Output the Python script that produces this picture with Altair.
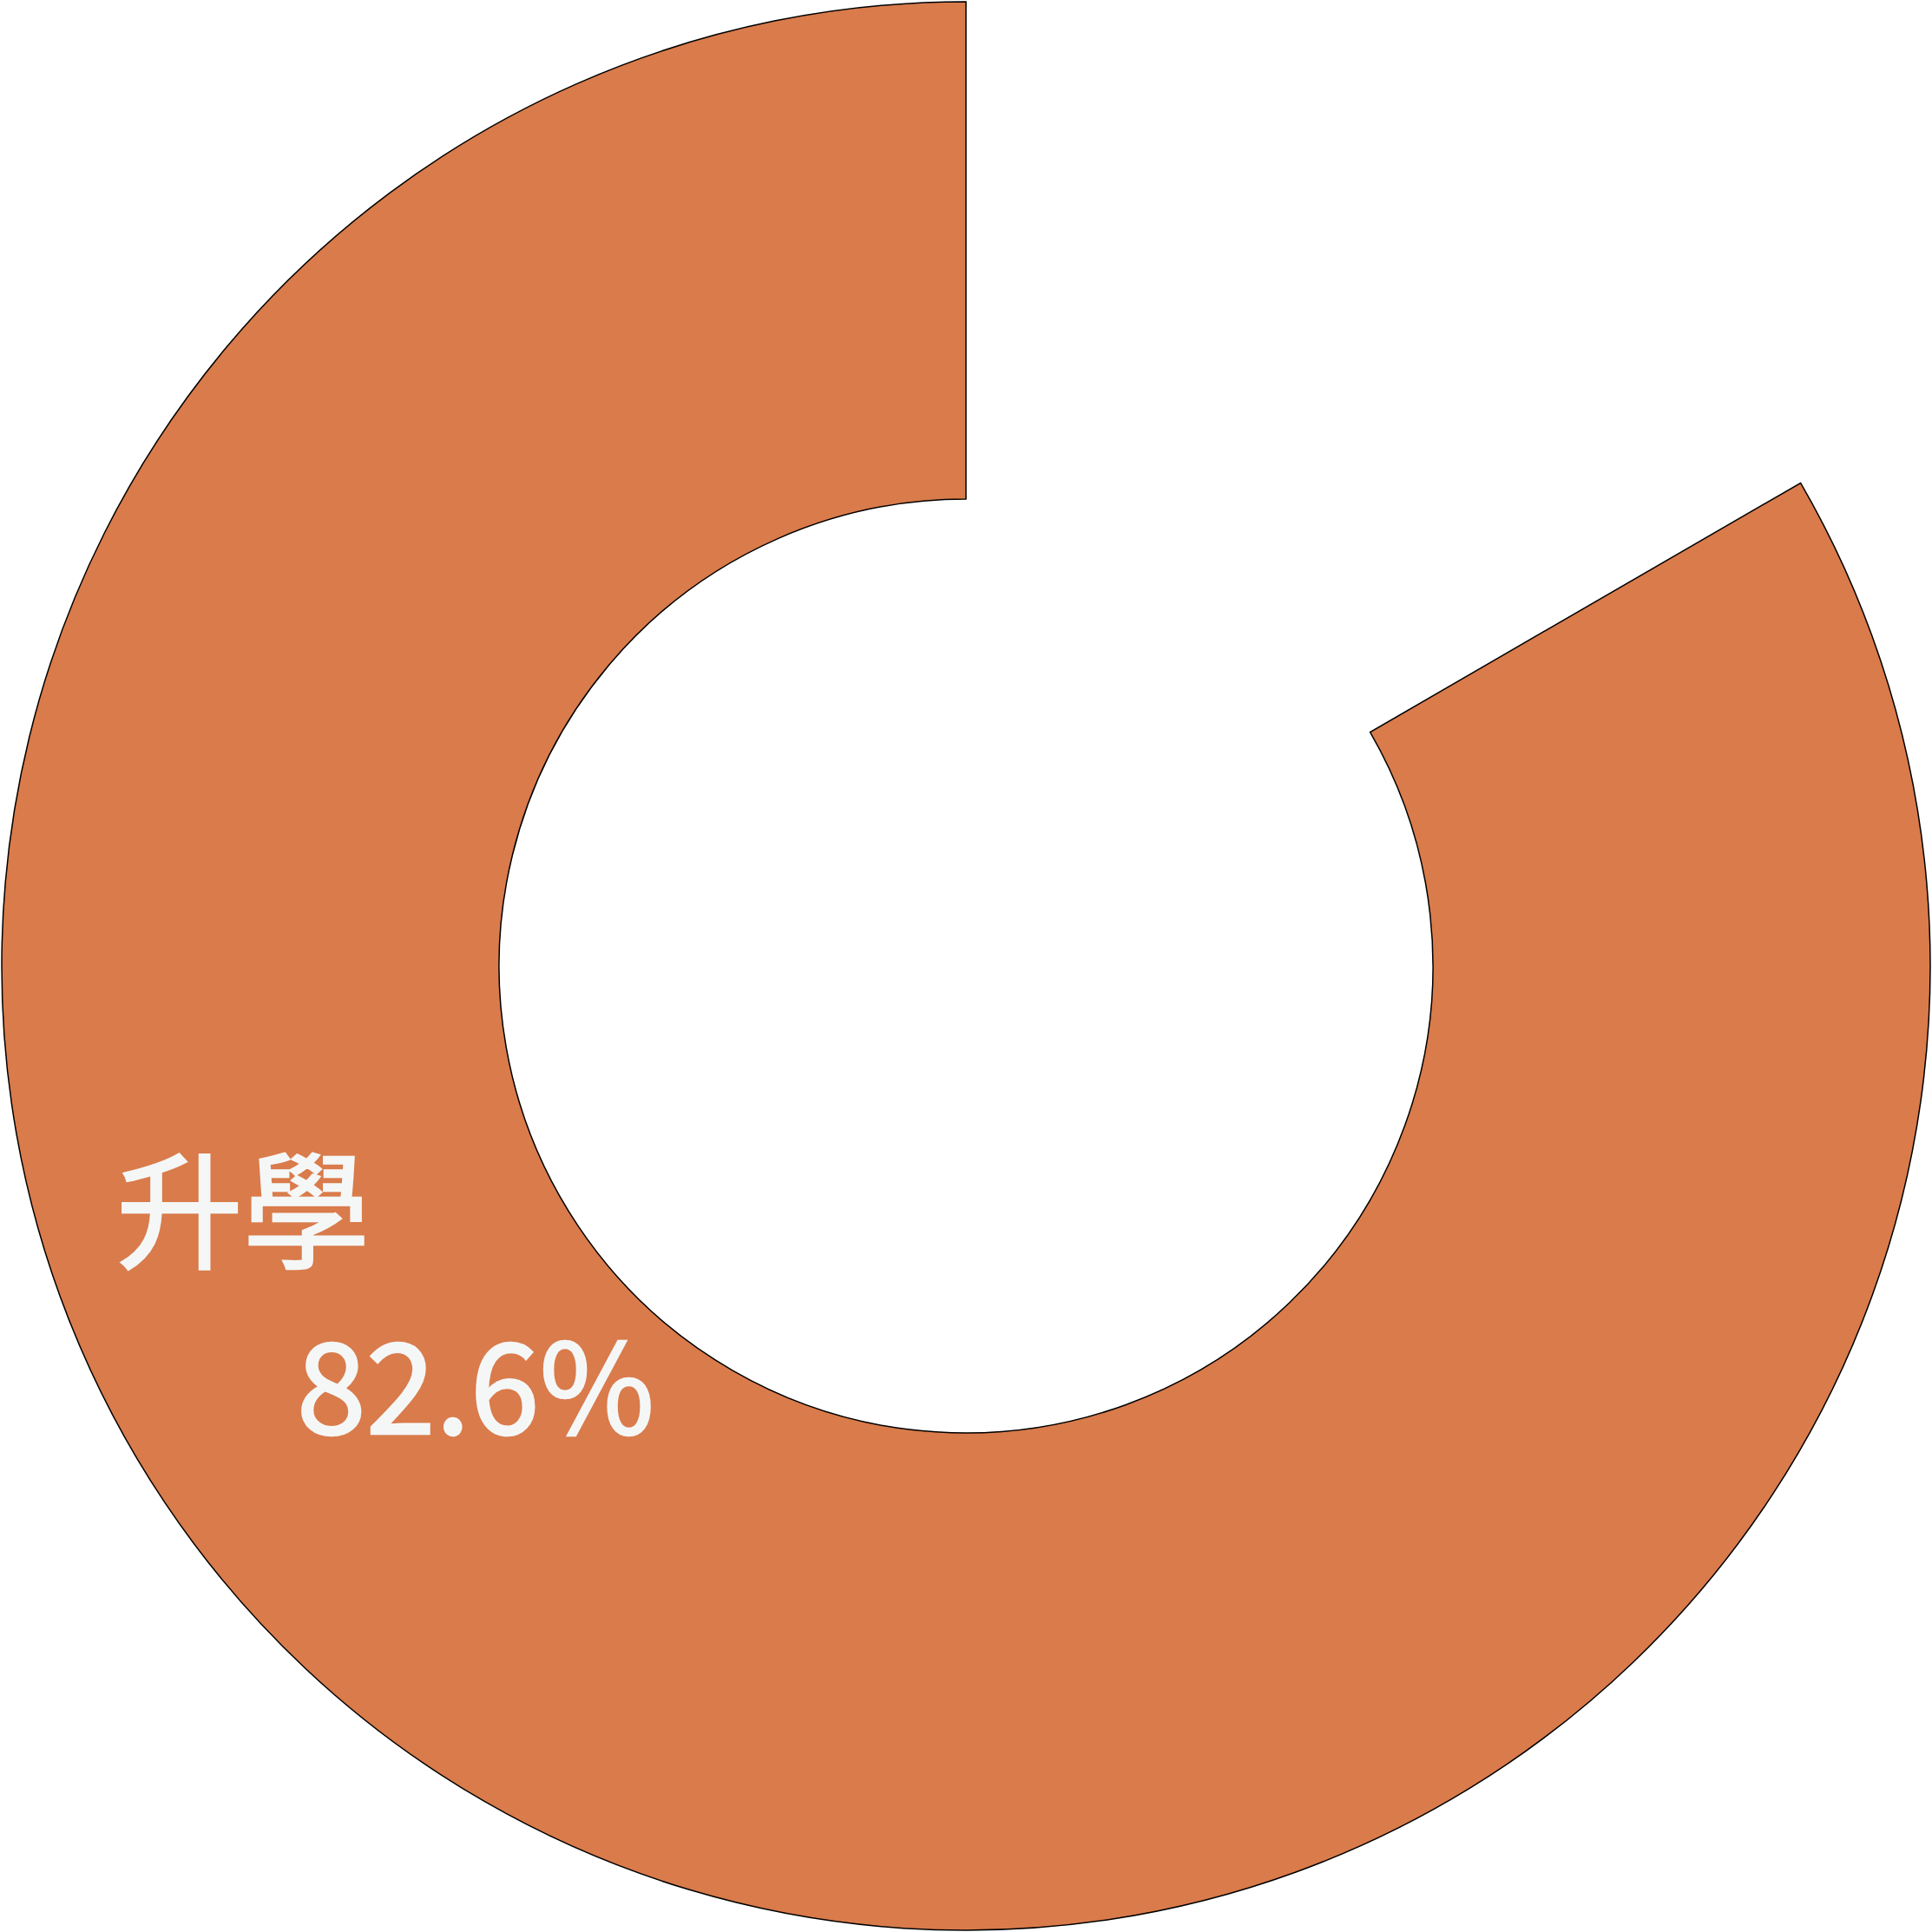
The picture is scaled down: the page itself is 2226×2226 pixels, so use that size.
import altair as alt
import pandas as pd

categories = ["其他", "升學"]
values = [16.5, 82.6]
order = [0, 1]
label_name = "升學"
label_value = "82.6%"

df = pd.DataFrame({"category": categories, "value": values, "order": order})

arc = alt.Chart(df).mark_arc(outerRadius=1111, innerRadius=538, strokeMiterLimit=10).encode(
    theta=alt.Theta("value:Q", stack=True),
    order=alt.Order("order:Q"),
    color=alt.Color("category:N", scale=alt.Scale(domain=["升學", "其他"], range=["#D97B4B", "rgba(0,0,0,0)"]), legend=None),
    stroke=alt.condition(alt.datum.category == "升學", alt.value("#000000"), alt.value(None)),
    strokeWidth=alt.condition(alt.datum.category == "升學", alt.value(1.5), alt.value(0)),
)

lab_df = pd.DataFrame({"t": [label_name]})
val_df = pd.DataFrame({"t": [label_value]})

lab = alt.Chart(lab_df).mark_text(
    font="Noto Sans CJK TC", fontSize=146, color="#F5F7F7", stroke="#F5F7F7", strokeWidth=2.5,
    align="center", baseline="middle"
).encode(text="t:N", x=alt.value(280), y=alt.value(1406))

val = alt.Chart(val_df).mark_text(
    font="Noto Sans CJK TC", fontSize=144, color="#F5F7F7", stroke="#F5F7F7", strokeWidth=2.5,
    align="center", baseline="alphabetic"
).encode(text="t:N", x=alt.value(548), y=alt.value(1652))

chart = alt.layer(arc, lab, val).properties(
    width=2226, height=2226, padding=0, autosize=alt.AutoSizeParams(type="none")
).configure_view(stroke=None)

chart.save("out.html", embed_options={"renderer": "svg", "actions": False})
